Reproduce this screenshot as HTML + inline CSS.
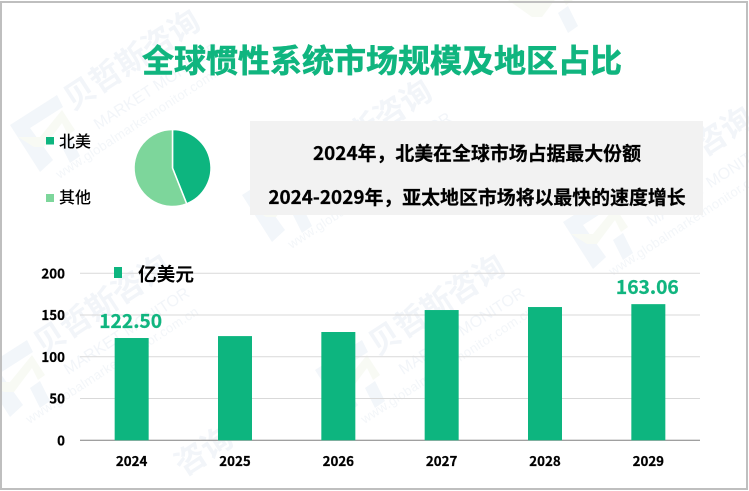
<!DOCTYPE html>
<html lang="zh-CN">
<head>
<meta charset="utf-8">
<title>全球惯性系统市场规模及地区占比</title>
<style>
html,body{margin:0;padding:0;background:#fff;overflow:hidden;}
body{width:749px;height:491px;}
svg{display:block;overflow:hidden;}
text{font-family:"Liberation Sans","Noto Sans CJK SC",sans-serif;}
.cjk{font-family:"Noto Sans CJK SC","Liberation Sans",sans-serif;}
</style>
</head>
<body>
<svg id="chart" width="749" height="491" viewBox="0 0 749 491" xmlns="http://www.w3.org/2000/svg">
  <rect x="0" y="0" width="749" height="491" fill="#ffffff"/>
  <g id="watermarks"></g>
  <rect x="1" y="2" width="746" height="487" fill="none" stroke="#bfbfbf" stroke-width="2"/>

  <text class="cjk" x="142" y="72" font-size="32" font-weight="700" fill="#10b57f" stroke="#10b57f" stroke-width="0.6">全球惯性系统市场规模及地区占比</text>

  <rect x="46" y="137" width="8" height="7.5" fill="#0db57f"/>
  <text class="cjk" x="59" y="147" font-size="16" font-weight="500" fill="#000">北美</text>
  <rect x="46" y="194" width="8" height="8" fill="#7dd69b"/>
  <text class="cjk" x="59" y="203" font-size="16" font-weight="500" fill="#000">其他</text>

  <g id="pie"></g>

  <rect x="250" y="121" width="453" height="94" fill="#f2f2f2"/>
  <text class="cjk" x="477" y="160" font-size="18.9" font-weight="700" text-anchor="middle" fill="#000" stroke="#000" stroke-width="0.25">2024年，北美在全球市场占据最大份额</text>
  <text class="cjk" x="477" y="204" font-size="18.9" font-weight="700" text-anchor="middle" fill="#000" stroke="#000" stroke-width="0.25">2024-2029年，亚太地区市场将以最快的速度增长</text>

  <g id="grid"></g>
  <g id="yticks"></g>
  <g id="bars"></g>
  <g id="xticks"></g>
  <g id="values"></g>

  <rect x="114" y="267" width="8" height="11" fill="#0db57f"/>
  <text class="cjk" x="138" y="281" font-size="18.67" font-weight="700" fill="#000">亿美元</text>
</svg>
<script>
var categories = ["2024", "2025", "2026", "2027", "2028", "2029"];
var marketSize = [122.5, 124.8, 129.7, 156, 159.6, 163.06];
var valueLabels = ["122.50", "", "", "", "", "163.06"];
var yTicks = [0, 50, 100, 150, 200];
var pieRegions = ["北美", "其他"];
var pieShares = [44, 56];

var NS = "http://www.w3.org/2000/svg";
var plotLeft = 80, plotRight = 700, plotBottom = 440.3, plotTop = 273.3, yMax = 200, barWidth = 34;
var pieCx = 172.5, pieCy = 168, pieR = 38.5;
var pieColors = ["#0db57f", "#7dd69b"];

function xScale(i) { return plotLeft + (i + 0.5) * (plotRight - plotLeft) / categories.length; }
function yScale(v) { return plotBottom - v / yMax * (plotBottom - plotTop); }
function make(tag, attrs, parent) {
  var el = document.createElementNS(NS, tag);
  for (var k in attrs) el.setAttribute(k, attrs[k]);
  parent.appendChild(el);
  return el;
}

/* gridlines and y tick labels */
var gridG = document.getElementById("grid");
var yG = document.getElementById("yticks");
yTicks.forEach(function (t) {
  var line = make("line", {x1: plotLeft, x2: plotRight, y1: yScale(t), y2: yScale(t), stroke: t === 0 ? "#808080" : "#d9d9d9", "stroke-width": 1}, gridG);
  
  
  var label = make("text", {x: 65, y: yScale(t) + 5, "text-anchor": "end", "font-size": 13.33, "font-weight": 700, "class": "cjk", fill: "#000", stroke: "#000", "stroke-width": 0.25}, yG);
  label.textContent = t;
  
  
});

/* bars, x labels, value labels */
var barsG = document.getElementById("bars");
var xG = document.getElementById("xticks");
var valG = document.getElementById("values");
categories.forEach(function (c, i) {
  var bar = make("rect", {x: xScale(i) - barWidth / 2, y: yScale(marketSize[i]), width: barWidth, height: plotBottom - yScale(marketSize[i]), fill: "#0db57f"}, barsG);
  
  
  var xl = make("text", {x: xScale(i), y: 466, "text-anchor": "middle", "font-size": 13.33, "font-weight": 700, "class": "cjk", fill: "#000", stroke: "#000", "stroke-width": 0.25}, xG);
  xl.textContent = c;
  
  
  if (valueLabels[i]) {
    var vl = make("text", {x: xScale(i) - 1, y: yScale(marketSize[i]) - 10, "text-anchor": "middle", "font-size": 19.2, "font-weight": 700, "class": "cjk", fill: "#10b57f", stroke: "#10b57f", "stroke-width": 0.25}, valG);
    vl.textContent = valueLabels[i];
    
    
  }
});

/* pie */
var pieG = document.getElementById("pie");
var shareTotal = pieShares.reduce(function (a, b) { return a + b; }, 0);
var startAngle = 0;
pieShares.forEach(function (s, i) {
  var endAngle = startAngle + s / shareTotal * Math.PI * 2;
  var x1 = pieCx + pieR * Math.sin(startAngle), y1 = pieCy - pieR * Math.cos(startAngle);
  var x2 = pieCx + pieR * Math.sin(endAngle), y2 = pieCy - pieR * Math.cos(endAngle);
  var large = endAngle - startAngle > Math.PI ? 1 : 0;
  var d = "M" + pieCx + " " + pieCy + " L" + x1 + " " + y1 + " A" + pieR + " " + pieR + " 0 " + large + " 1 " + x2 + " " + y2 + " Z";
  var slice = make("path", {d: d, fill: pieColors[i], stroke: "#ffffff", "stroke-width": 1.5, "stroke-linejoin": "miter"}, pieG);
  
  
  startAngle = endAngle;
});

/* watermarks: x and y are the centre of the first watermark character */
var wmG = document.getElementById("watermarks");
var wmTiles = [[80, 93], [312, 163], [633, 190], [50, 338], [385, 338]];
wmTiles.forEach(function (p) {
  var tile = make("g", {transform: "translate(" + p[0] + " " + p[1] + ")"}, wmG);
  
  
  make("polygon", {points: "-70,32 -23,2 -17,14 -50,35 -27,67 -40,79", fill: "#f2f6fa"}, tile);
  make("polygon", {points: "-20,50 -10,43 0,63 -10,70", fill: "#f2f6fa"}, tile);
  make("polygon", {points: "-62,44 -40,44 -18,17 -5,37 -12,42 -18,30 -36,54 -46,54", fill: "#f8faf4"}, tile);
  var rot = make("g", {transform: "rotate(-33)"}, tile);
  var t1 = make("text", {x: -16, y: 11, "font-size": 31, "font-weight": 700, "class": "cjk", fill: "#f2f5f9"}, rot);
  t1.textContent = "贝哲斯咨询";
  var t2 = make("text", {x: -5, y: 41, "font-size": 16, fill: "#f2f5f9"}, rot);
  t2.textContent = "MARKET MONITOR";
  var t3 = make("text", {x: -64, y: 61, "font-size": 13, "letter-spacing": 0.3, fill: "#f3f6f9"}, rot);
  t3.textContent = "www.globalmarketmonitor.com.cn";
});

/* partial watermark pieces that sit at the frame edges */
var topMark = make("g", {transform: "translate(578 -37)"}, wmG);


make("polygon", {points: "-70,37 -48,37 -28,37 -18,17 -5,37 -12,42 -18,30 -36,54 -46,54", fill: "#f8faf4"}, topMark);
make("polygon", {points: "-20,50 -10,43 0,63 -10,70", fill: "#f2f6fa"}, topMark);
var wmEdges = [[191, 459]];
wmEdges.forEach(function (p) {
  var edge = make("g", {transform: "translate(" + p[0] + " " + p[1] + ") rotate(-33)"}, wmG);
  
  
  var t = make("text", {x: -16, y: 11, "font-size": 31, "font-weight": 700, "class": "cjk", fill: "#f2f5f9"}, edge);
  t.textContent = "咨询";
});
</script>
</body>
</html>
